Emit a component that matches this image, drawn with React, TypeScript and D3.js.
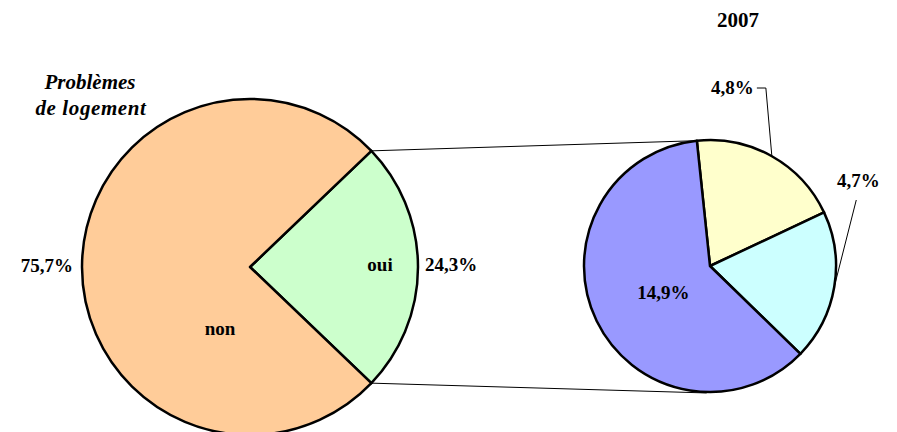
import React from "react";
import * as d3 from "d3";

const mainCategories = ["oui", "non"];
const mainValues = [24.3, 75.7];
const mainColors = ["#CCFFCC", "#FFCC99"];

const subCategories = ["a", "b", "c"];
const subValues = [4.8, 4.7, 14.9];
const subColors = ["#FFFFCC", "#CCFFFF", "#9999FF"];

const titleLines = ["Problèmes", "de logement"];
const yearLabel = "2007";

const fmt = (v: number) => v.toFixed(1).replace(".", ",") + "%";

export default function App() {
  const W = 897, H = 432;
  const c1 = { x: 250, y: 267 }, r1 = 168;
  const c2 = { x: 710, y: 266 }, r2 = 126;
  const deg = Math.PI / 180;

  const ouiSpan = (mainValues[0] / d3.sum(mainValues)) * 2 * Math.PI;
  const s1 = Math.PI / 2 - ouiSpan / 2;
  const pie1 = d3.pie<number>().sort(null).startAngle(s1).endAngle(s1 + 2 * Math.PI)(mainValues);
  const s2 = -6 * deg;
  const pie2 = d3.pie<number>().sort(null).startAngle(s2).endAngle(s2 + 2 * Math.PI)(subValues);

  const arc1 = d3.arc<d3.PieArcDatum<number>>().innerRadius(0).outerRadius(r1);
  const arc2 = d3.arc<d3.PieArcDatum<number>>().innerRadius(0).outerRadius(r2);

  const pt = (c: { x: number; y: number }, r: number, a: number) => [c.x + r * Math.sin(a), c.y - r * Math.cos(a)];

  const topL = pt(c1, r1, pie1[0].startAngle);
  const botL = pt(c1, r1, pie1[0].endAngle);
  const topR = pt(c2, r2, pie2[0].startAngle);
  const botR = pt(c2, r2 + 1, 181.5 * deg);

  const midA = (d: d3.PieArcDatum<number>) => (d.startAngle + d.endAngle) / 2;
  const yA = pt(c2, r2, midA(pie2[0]));
  const cA = pt(c2, r2, midA(pie2[1]));
  const bC = arc2.centroid(pie2[2]);

  const font = "'Liberation Serif', 'Times New Roman', serif";
  const lab = { fontFamily: font, fontWeight: 700, fontSize: 19, fill: "#000" } as const;

  return (
    <svg width={W} height={H} style={{ position: "absolute", left: 0, top: 0 }}>
      <rect width={W} height={H} fill="#fff" />
      <text x={738} y={27} textAnchor="middle" {...lab} fontSize={21}>{yearLabel}</text>
      <text x={90} y={89} textAnchor="middle" {...lab} fontSize={21} fontStyle="italic">{titleLines[0]}</text>
      <text x={91} y={115} textAnchor="middle" {...lab} fontSize={21} fontStyle="italic" letterSpacing={0.6}>{titleLines[1]}</text>

      <line x1={topL[0]} y1={topL[1]} x2={topR[0]} y2={topR[1]} stroke="#000" strokeWidth={1} />
      <line x1={botL[0]} y1={botL[1]} x2={botR[0]} y2={botR[1]} stroke="#000" strokeWidth={1} />

      <g transform={`translate(${c1.x},${c1.y})`}>
        {pie1.map((d, i) => (
          <path key={mainCategories[i]} d={arc1(d) || ""} fill={mainColors[i]} stroke="#000" strokeWidth={2.5} strokeLinejoin="round" />
        ))}
      </g>
      <g transform={`translate(${c2.x},${c2.y})`}>
        {pie2.map((d, i) => (
          <path key={subCategories[i]} d={arc2(d) || ""} fill={subColors[i]} stroke="#000" strokeWidth={2.5} strokeLinejoin="round" />
        ))}
      </g>

      <text x={380} y={271} textAnchor="middle" {...lab}>{mainCategories[0]}</text>
      <text x={425} y={271} textAnchor="start" {...lab}>{fmt(mainValues[0])}</text>
      <text x={220} y={335} textAnchor="middle" {...lab}>{mainCategories[1]}</text>
      <text x={73} y={272} textAnchor="end" {...lab}>{fmt(mainValues[1])}</text>

      <polyline points={`${yA[0] - 15},88 ${yA[0] - 6},88 ${yA[0]},${yA[1]}`} fill="none" stroke="#000" strokeWidth={1} />
      <text x={yA[0] - 18} y={94} textAnchor="end" {...lab}>{fmt(subValues[0])}</text>
      <polyline points={`${cA[0] + 22},200 ${cA[0]},${cA[1]}`} fill="none" stroke="#000" strokeWidth={1} />
      <text x={cA[0] + 24} y={187} textAnchor="middle" {...lab}>{fmt(subValues[1])}</text>
      <text x={c2.x + bC[0] + 10} y={c2.y + bC[1] + 5} textAnchor="middle" {...lab}>{fmt(subValues[2])}</text>
    </svg>
  );
}
